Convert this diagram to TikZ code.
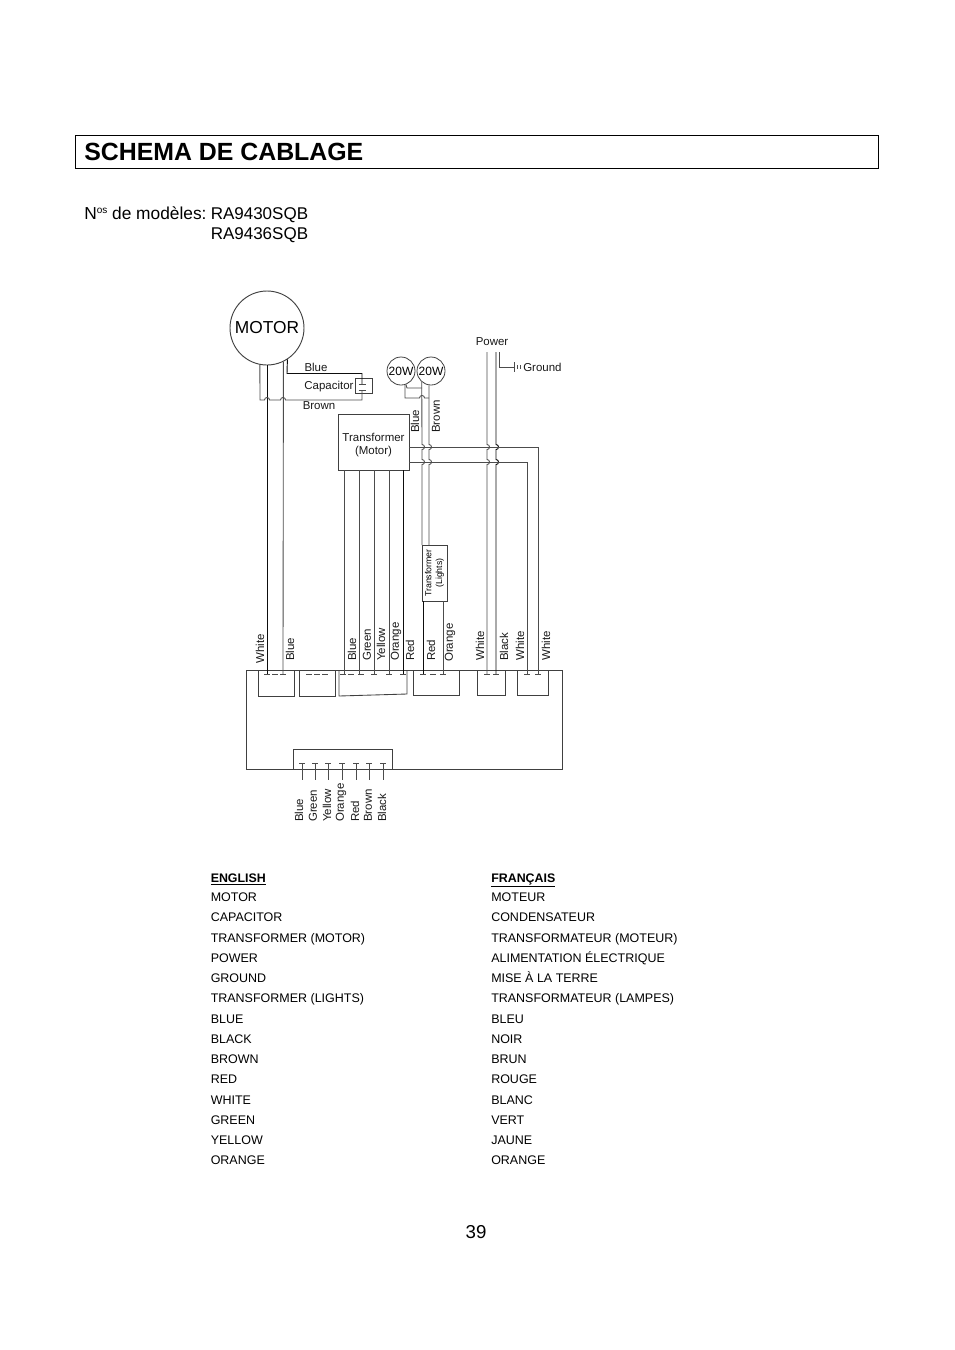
\documentclass[tikz,border=0pt]{standalone}
\usepackage{fontspec}
\setmainfont{Liberation Sans}
\def\vhop#1#2{-- (#1,#2-2.5) arc (90:-90:1.9pt)}
\def\hhop#1#2{-- (#1-2.5,#2) arc (180:0:1.9pt)}
\tikzset{
	wire/.style={line width=0.65pt, color=black!70},
	darkwire/.style={line width=0.7pt, color=black!95},
	outline/.style={line width=0.65pt, color=black!75},
	wirelabel/.style={font=\fontsize{8.6}{10}\selectfont, inner sep=0pt, color=black!90},
	uplabel/.style={wirelabel, rotate=90, anchor=west},
	bodytext/.style={font=\fontsize{12.75}{15}\selectfont, inner sep=0pt, anchor=base west},
	rowtext/.style={font=\fontsize{9.36}{11}\selectfont, inner sep=0pt, anchor=base west},
	lamp/.style={circle, draw=black!75, line width=0.6pt, minimum size=21pt, inner sep=0pt, font=\fontsize{9}{10}\selectfont}
}
\begin{document}
\begin{tikzpicture}[x=0.75pt, y=-0.75pt]
		\useasboundingbox (0, 0) rectangle (954, 1350);
		
		%%%%% HEADER %%%%%
		\draw[line width=0.75pt] (75, 135) rectangle (878, 168);
		\node[bodytext, font=\bfseries\fontsize{18.65}{22}\selectfont] (title) at (84, 160) {SCHEMA DE CABLAGE};
		\node[bodytext, font=\fontsize{13}{15}\selectfont] (models) at (84, 219) {N\raisebox{4.5pt}{\fontsize{7.5}{8}\selectfont os} de modèles:};
		\node[bodytext] (modela) at (210.5, 219) {RA9430SQB};
		\node[bodytext] (modelb) at (210.5, 239) {RA9436SQB};
		
		%%%%% PARTS %%%%%
		\node[circle, draw=black!75, line width=0.7pt, minimum size=55.5pt, inner sep=0pt, font=\fontsize{13}{15}\selectfont] (motor) at (267, 328) {MOTOR};
		\node[draw=black!75, line width=0.6pt, minimum width=12.75pt, minimum height=11.25pt, inner sep=0pt] (capbox) at (363.5, 385.5) {};
		\node[draw=black!75, line width=0.65pt, minimum width=53.25pt, minimum height=42pt, inner sep=0pt] (xfmrmotor) at (373.5, 442) {};
		\node[draw=black!75, line width=0.65pt, minimum width=42pt, minimum height=18.75pt, inner sep=0pt, align=center, rotate=90, font=\fontsize{6.6}{8}\selectfont] (xfmrlights) at (434.5, 573) {Transformer\\(Lights)};
		\node[lamp] (lampa) at (401, 371) {20W};
		\node[lamp] (lampb) at (431, 371) {20W};
		
		%%%%% TERMINAL BLOCK %%%%%
		\draw[outline] (246, 670) rectangle (562.5, 769);
		\draw[outline] (258, 670) -- (258, 696) -- (294, 696) -- (294, 670);
		\draw[outline] (299, 670) -- (299, 696) -- (335, 696) -- (335, 670);
		\draw[outline] (339, 670) -- (339, 696) -- (407, 694) -- (407, 670);
		\draw[outline] (413, 670) -- (413, 695) -- (459, 695) -- (459, 670);
		\draw[outline] (477, 670) -- (477, 695) -- (505, 695) -- (505, 670);
		\draw[outline] (517, 670) -- (517, 695) -- (548, 695) -- (548, 670);
		\draw[outline] (293, 769) -- (293, 749) -- (392, 749) -- (392, 769);
		\foreach \x in {267, 275, 283, 309, 317, 325, 343, 351, 361, 374, 389, 403, 423, 433, 443, 487, 496, 527, 538}
			\draw[wire] (\x-3, 674) -- (\x+3, 674);
		
		% terminals
		\coordinate (twhite) at (267, 674);
		\coordinate (tblue) at (283, 674);
		\coordinate (tma) at (344, 674);
		\coordinate (tmb) at (359, 674);
		\coordinate (tmc) at (374, 674);
		\coordinate (tmd) at (389, 674);
		\coordinate (tme) at (403, 674);
		\coordinate (tla) at (423, 674);
		\coordinate (tlb) at (443, 674);
		\coordinate (tpa) at (487, 674);
		\coordinate (tpb) at (496, 674);
		\coordinate (tra) at (527, 674);
		\coordinate (trb) at (538, 674);
		
		%%%%% WIRES %%%%%
		\draw[darkwire] (motor.south) -- (twhite);
		\draw[wire] (motor.-64) -- (tblue);
		\draw[wire] (motor.-101) -- (260, 400) \hhop{267}{400} \hhop{283}{400} -- (362, 400) -- (362, 390);
		\draw[darkwire] (motor.-57) -- (287, 373.5) -- (362, 373.5) -- (362, 384);
		\draw[wire] (358.5, 384) -- (365.5, 384);
		\draw[wire] (358.5, 390) -- (365.5, 390);
		
		\draw[wire] (xfmrmotor.south -| tma) -- (tma);
		\draw[wire] (xfmrmotor.south -| tmb) -- (tmb);
		\draw[wire] (xfmrmotor.south -| tmc) -- (tmc);
		\draw[wire] (xfmrmotor.south -| tmd) -- (tmd);
		\draw[darkwire] (xfmrmotor.south -| tme) -- (tme);
		
		\draw[wire] (lampb.230) \vhop{422}{447} \vhop{422}{462} -- (422, 545);
		\draw[wire] (lampb.262) \vhop{429}{447} \vhop{429}{462} -- (429, 545);
		\draw[wire] (lampa.-70) -- (407, 388) -- (422, 388);
		\draw[wire] (405, 385) -- (405, 398) \hhop{422}{398} -- (429, 398);
		
		\draw[darkwire] (xfmrlights.west -| tla) -- (tla);
		\draw[wire] (xfmrlights.west -| tlb) -- (tlb);
		
		\draw[wire] (487, 352) \vhop{487}{447} \vhop{487}{462} -- (tpa);
		\draw[darkwire] (496, 352) \vhop{496}{447} \vhop{496}{462} -- (tpb);
		\draw[wire] (499, 352) -- (499, 367) -- (514, 367);
		\draw[wire] (514, 362) -- (514, 372);
		\draw[wire] (517.5, 365) -- (517.5, 369);
		\draw[wire] (520, 365) -- (520, 369);
		
		\draw[wire] (xfmrmotor.east |- 0, 447) -- (538, 447) -- (trb);
		\draw[wire] (xfmrmotor.east |- 0, 462) -- (527, 462) -- (tra);
		
		\foreach \x in {302, 315, 328, 342, 356, 369, 383} {
			\draw[wire] (\x-3, 763) -- (\x+3, 763);
			\draw[wire] (\x, 763) -- (\x, 780);
		}
		
		%%%%% LABELS %%%%%
		\node[wirelabel] (lblblue) at (316, 367) {Blue};
		\node[wirelabel] (lblcap) at (329, 387) {Capacitor};
		\node[wirelabel] (lblbrown) at (319, 406) {Brown};
		\node[wirelabel] (lblxfmra) at (373.5, 437) {Transformer};
		\node[wirelabel] (lblxfmrb) at (373.5, 452) {(Motor)};
		\node[wirelabel] (lblpower) at (492, 341.5) {Power};
		\node[wirelabel, anchor=west] (lblground) at (523, 367) {Ground};
		\node[uplabel] (lbllampa) at (415, 433) {Blue};
		\node[uplabel] (lbllampb) at (436, 433) {Brown};
		\foreach \x/\y/\t in {260/664/White, 290/661/Blue, 352/661/Blue, 367/661/Green, 381/661/Yellow, 396/661/Orange, 410/661/Red, 431/661/Red, 450/662/Orange, 480/661/White, 504/661/Black, 520/661/White, 546/661/White}
			\node[uplabel] (up\x) at (\x, \y) {\t};
		\foreach \x/\t in {299/Blue, 313/Green, 327/Yellow, 341/Orange, 355/Red, 368/Brown, 382/Black}
			\node[uplabel] (down\x) at (\x, 822) {\t};
		
		%%%%% LEGEND %%%%%
		\node[rowtext, font=\bfseries\fontsize{9.3}{11}\selectfont] (hdren) at (210.5, 882) {\underline{ENGLISH}};
		\node[rowtext, font=\bfseries\fontsize{9.3}{11}\selectfont] (hdrfr) at (491, 882) {\underline{FRANÇAIS}};
		\foreach \i/\en/\fr in {0/MOTOR/MOTEUR, 1/CAPACITOR/CONDENSATEUR, 2/TRANSFORMER (MOTOR)/TRANSFORMATEUR (MOTEUR), 3/POWER/ALIMENTATION ÉLECTRIQUE, 4/GROUND/MISE À LA TERRE, 5/TRANSFORMER (LIGHTS)/TRANSFORMATEUR (LAMPES), 6/BLUE/BLEU, 7/BLACK/NOIR, 8/BROWN/BRUN, 9/RED/ROUGE, 10/WHITE/BLANC, 11/GREEN/VERT, 12/YELLOW/JAUNE, 13/ORANGE/ORANGE} {
			\node[rowtext] (en\i) at (210.5, 901.7+20.25*\i) {\en};
			\node[rowtext] (fr\i) at (491, 901.7+20.25*\i) {\fr};
		}
		
		\node[font=\fontsize{14}{16}\selectfont, inner sep=0pt] (pagenum) at (476, 1232) {39};
	\end{tikzpicture}
\end{document}
